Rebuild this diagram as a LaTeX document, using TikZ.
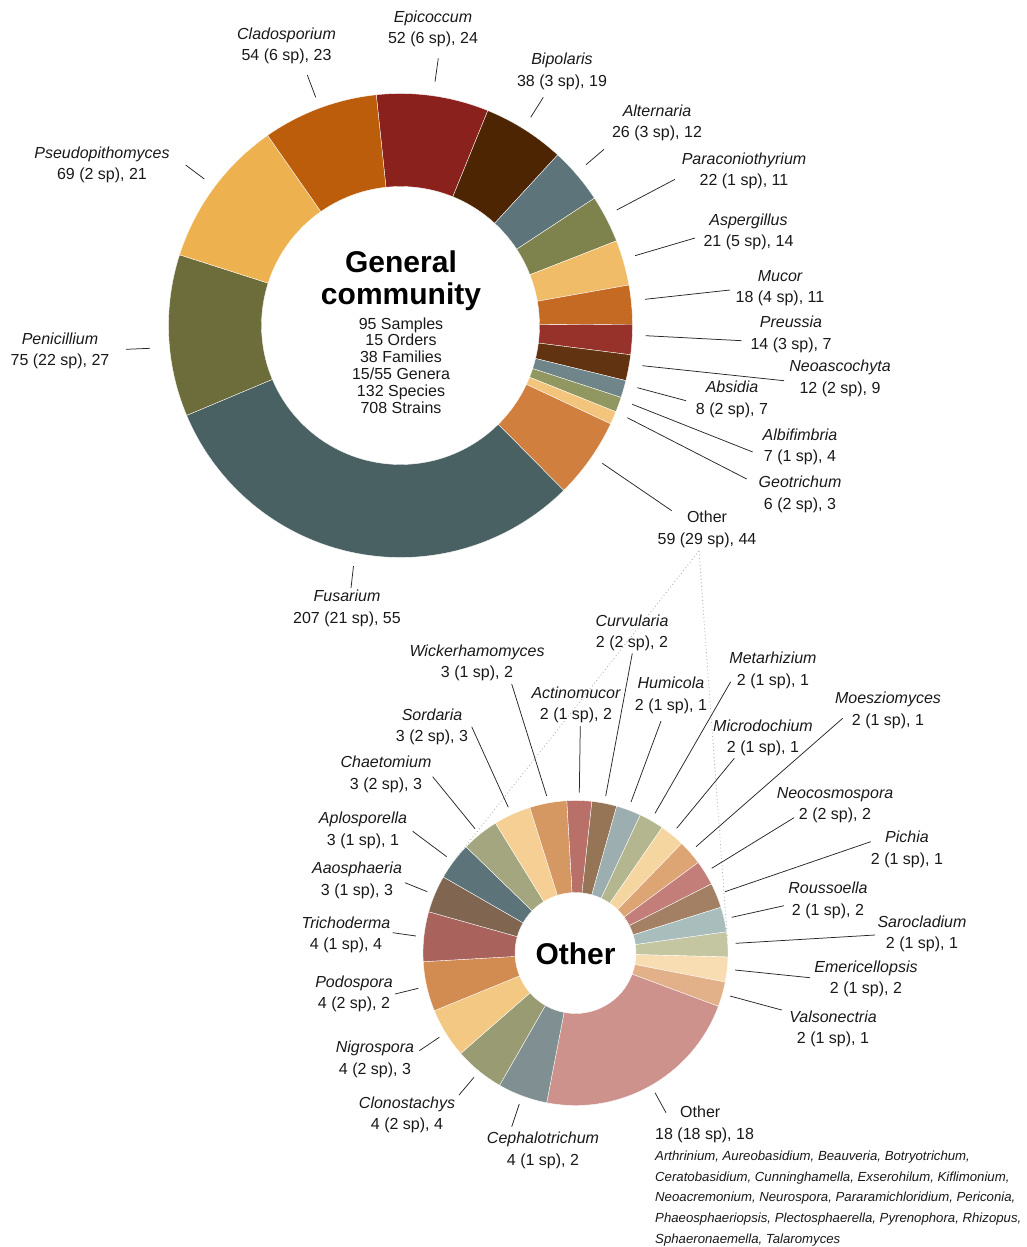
\documentclass[tikz,border=0pt]{standalone}
\usepackage{fontspec}
\setmainfont{Liberation Sans}
% top colours
\definecolor{tEpi}{HTML}{8A211C}
\definecolor{tBip}{HTML}{4E2503}
\definecolor{tAlt}{HTML}{5C747A}
\definecolor{tPar}{HTML}{7E824C}
\definecolor{tAsp}{HTML}{F1BC67}
\definecolor{tMuc}{HTML}{C46A22}
\definecolor{tPre}{HTML}{963229}
\definecolor{tNeo}{HTML}{623310}
\definecolor{tAbs}{HTML}{6F8589}
\definecolor{tAlb}{HTML}{909760}
\definecolor{tGeo}{HTML}{F3C57C}
\definecolor{tOth}{HTML}{D07F3E}
\definecolor{tFus}{HTML}{4A6163}
\definecolor{tPen}{HTML}{6C6D3B}
\definecolor{tPse}{HTML}{EEB150}
\definecolor{tCla}{HTML}{BB5D0A}
% bottom colours
\definecolor{bAct}{HTML}{B87068}
\definecolor{bCur}{HTML}{957556}
\definecolor{bHum}{HTML}{9DAEB1}
\definecolor{bMet}{HTML}{B3B68E}
\definecolor{bMic}{HTML}{F5D5A0}
\definecolor{bMoe}{HTML}{DDA474}
\definecolor{bNeo}{HTML}{C47E79}
\definecolor{bPic}{HTML}{A38064}
\definecolor{bRou}{HTML}{A9BDBD}
\definecolor{bSar}{HTML}{C3C6A0}
\definecolor{bEme}{HTML}{F7DDB1}
\definecolor{bVal}{HTML}{E2B18A}
\definecolor{bOth}{HTML}{CD928C}
\definecolor{bCep}{HTML}{7F8F92}
\definecolor{bClo}{HTML}{999B72}
\definecolor{bNig}{HTML}{F2C883}
\definecolor{bPod}{HTML}{D28B50}
\definecolor{bTri}{HTML}{A9625C}
\definecolor{bAao}{HTML}{806650}
\definecolor{bApl}{HTML}{5B7379}
\definecolor{bCha}{HTML}{A3A67F}
\definecolor{bSor}{HTML}{F5CF93}
\definecolor{bWic}{HTML}{D59862}
\tikzset{
  lab/.style={font=\fontsize{16}{19}\selectfont, inner sep=0pt, text=black!90},
  title/.style={font=\bfseries\fontsize{30}{33}\selectfont, inner sep=0pt},
  small/.style={font=\itshape\fontsize{13.2}{15}\selectfont, inner sep=0pt, anchor=base west, text=black!90},
  lead/.style={line width=0.75pt, black!85},
  zoomline/.style={line width=0.9pt, black!30, dash pattern=on 0.9pt off 2.6pt},
  slicefill/.style={draw=white, line width=0.35pt}
}
% id, x, y of number line centre, name, number, leader start, leader end
\newcommand\glabel[7]{%
  \node[lab, anchor=base] (#1) at (#2,{#3+5.7}) {#5};
  \node[lab, anchor=base] (#1n) at (#2,{#3+5.7-21.3}) {\itshape #4};
  \coordinate (#1s) at #6;
  \coordinate (#1e) at #7;
  \draw[lead] (#1s) -- (#1e);
}
\begin{document}
\begin{tikzpicture}[x=1pt, y=-1pt]
\useasboundingbox (0,0) rectangle (1027,1247);
% ---------- top donut ----------
\begin{scope}[shift={(400.5,325.5)}]
\foreach \a/\b/\col in {-6/22.11/tEpi, 22.11/42.65/tBip, 42.65/56.71/tAlt, 56.71/68.60/tPar,
  68.60/79.95/tAsp, 79.95/89.68/tMuc, 89.68/97.25/tPre, 97.25/103.74/tNeo, 103.74/108.06/tAbs,
  108.06/111.84/tAlb, 111.84/115.08/tGeo, 115.08/135.3/tOth, 135.3/247.2/tFus, 247.2/287.75/tPen,
  287.75/325.05/tPse, 325.05/354/tCla}{
  \fill[\col, slicefill] ({\a-90}:232) arc[start angle={\a-90}, end angle={\b-90}, radius=232]
    -- ({\b-90}:139) arc[start angle={\b-90}, end angle={\a-90}, radius=139] -- cycle;
}
\end{scope}
\node[title, anchor=base] (gen) at (401,272) {General};
\node[title, anchor=base] (com) at (401,304) {community};
\node[lab, anchor=base] (s1) at (401,329.0) {95 Samples};
\node[lab, anchor=base] (s2) at (401,345.8) {15 Orders};
\node[lab, anchor=base] (s3) at (401,362.6) {38 Families};
\node[lab, anchor=base] (s4) at (401,379.4) {15/55 Genera};
\node[lab, anchor=base] (s5) at (401,396.2) {132 Species};
\node[lab, anchor=base] (s6) at (401,413.0) {708 Strains};
% top labels
\glabel{cla}{286.5}{55}{Cladosporium}{54 (6 sp), 23}{(307.3,75)}{(315.7,97.3)}
\glabel{epi}{433}{37.7}{Epicoccum}{52 (6 sp), 24}{(438.3,58.3)}{(435,81.7)}
\glabel{bip}{562}{80.3}{Bipolaris}{38 (3 sp), 19}{(543.3,97.3)}{(530.7,117.3)}
\glabel{alt}{657}{132}{Alternaria}{26 (3 sp), 12}{(604,149.3)}{(586,164.7)}
\glabel{par}{744}{180}{Paraconiothyrium}{22 (1 sp), 11}{(675,179.3)}{(616.7,210)}
\glabel{asp}{748.5}{240.7}{Aspergillus}{21 (5 sp), 14}{(695,238)}{(635,255.7)}
\glabel{muc}{780}{296.7}{Mucor}{18 (4 sp), 11}{(730,290)}{(645,299.3)}
\glabel{pre}{791}{343.3}{Preussia}{14 (3 sp), 7}{(741.7,340.7)}{(645.7,335.7)}
\glabel{neo}{840}{387.3}{Neoascochyta}{12 (2 sp), 9}{(784,380.7)}{(642.3,365.7)}
\glabel{abs}{732}{408.3}{Absidia}{8 (2 sp), 7}{(686,400.7)}{(637.3,387.7)}
\glabel{alb}{800}{455.7}{Albifimbria}{7 (1 sp), 4}{(752.7,452)}{(632.3,404.3)}
\glabel{geo}{800}{503.3}{Geotrichum}{6 (2 sp), 3}{(746.7,479)}{(627.3,417.7)}
\glabel{oth}{707}{538.3}{\upshape Other}{59 (29 sp), 44}{(671.7,510.7)}{(602.3,463.3)}
\glabel{fus}{347}{617.3}{Fusarium}{207 (21 sp), 55}{(353.5,566)}{(351,588)}
\glabel{pen}{60}{360}{Penicillium}{75 (22 sp), 27}{(126,349.3)}{(150,348.3)}
\glabel{pse}{102}{174}{Pseudopithomyces}{69 (2 sp), 21}{(185.7,165)}{(204.3,179)}
% ---------- zoom lines ----------
\coordinate (zp) at (699,551);
\coordinate (zl) at (455.9,858.4);
\coordinate (zr) at (727.6,941.8);
\draw[zoomline] (zp) -- (zl);
\draw[zoomline] (zp) -- (zr);
% ---------- bottom donut ----------
\begin{scope}[shift={(575.5,953)}]
\foreach \a/\b/\col in {-3.3/6.18/bAct, 6.18/15.66/bCur, 15.66/25.14/bHum, 25.14/34.62/bMet,
  34.62/44.10/bMic, 44.10/53.58/bMoe, 53.58/63.06/bNeo, 63.06/72.54/bPic, 72.54/82.02/bRou,
  82.02/91.50/bSar, 91.50/100.98/bEme, 100.98/110.46/bVal, 110.46/190.9/bOth, 190.9/209.86/bCep,
  209.86/228.82/bClo, 228.82/247.78/bNig, 247.78/266.74/bPod, 266.74/285.70/bTri, 285.70/299.92/bAao,
  299.92/314.14/bApl, 314.14/328.36/bCha, 328.36/342.58/bSor, 342.58/356.7/bWic}{
  \fill[\col, slicefill] ({\a-90}:152.5) arc[start angle={\a-90}, end angle={\b-90}, radius=152.5]
    -- ({\b-90}:60.5) arc[start angle={\b-90}, end angle={\a-90}, radius=60.5] -- cycle;
}
\end{scope}
\node[title, anchor=base] (oth2) at (575.5,964) {Other};
% bottom labels
\glabel{cur}{632}{641.7}{Curvularia}{2 (2 sp), 2}{(632.3,653.3)}{(605.7,796)}
\glabel{wic}{477}{671.7}{Wickerhamomyces}{3 (1 sp), 2}{(511.7,684)}{(546.7,796)}
\glabel{act}{576}{714}{Actinomucor}{2 (1 sp), 2}{(580.3,726)}{(579.3,792.7)}
\glabel{hum}{671}{704.3}{Humicola}{2 (1 sp), 1}{(661,721)}{(631,802)}
\glabel{met}{773}{679.3}{Metarhizium}{2 (1 sp), 1}{(730.7,681.7)}{(655,813.3)}
\glabel{mic}{763}{746.7}{Microdochium}{2 (1 sp), 1}{(734.3,758.3)}{(676.7,828.3)}
\glabel{moe}{888}{719.3}{Moesziomyces}{2 (1 sp), 1}{(842.7,718.3)}{(696,846.7)}
\glabel{ncs}{835}{814}{Neocosmospora}{2 (2 sp), 2}{(794,817.7)}{(711.7,868.3)}
\glabel{pic}{907}{858.3}{Pichia}{2 (1 sp), 1}{(870.7,841.7)}{(725,891.7)}
\glabel{rou}{828}{909.3}{Roussoella}{2 (1 sp), 2}{(784,905.7)}{(731.7,917.3)}
\glabel{sar}{922}{942.7}{Sarocladium}{2 (1 sp), 1}{(875,935)}{(735.7,943.3)}
\glabel{eme}{866}{987.7}{Emericellopsis}{2 (1 sp), 2}{(810,977.7)}{(735,970)}
\glabel{val}{833}{1037.7}{Valsonectria}{2 (1 sp), 1}{(781.7,1010)}{(730,996)}
\glabel{cep}{543}{1159.3}{Cephalotrichum}{4 (1 sp), 2}{(511.7,1126.7)}{(519.3,1104)}
\glabel{clo}{407}{1124}{Clonostachys}{4 (2 sp), 4}{(459,1095)}{(474,1077.3)}
\glabel{nig}{375}{1068.3}{Nigrospora}{4 (2 sp), 3}{(419.3,1050.7)}{(439.3,1037.3)}
\glabel{pod}{354}{1002.7}{Podospora}{4 (2 sp), 2}{(395,994)}{(418.3,988.3)}
\glabel{tri}{346}{944}{Trichoderma}{4 (1 sp), 4}{(392.7,932.7)}{(416,936)}
\glabel{aao}{357}{889.3}{Aaosphaeria}{3 (1 sp), 3}{(405,882.7)}{(427.3,891.7)}
\glabel{apl}{363}{839.3}{Aplosporella}{3 (1 sp), 1}{(412.7,831.3)}{(446.7,856.7)}
\glabel{cha}{386}{783.3}{Chaetomium}{3 (2 sp), 3}{(432.7,776.7)}{(475,828.7)}
\glabel{sor}{432}{736}{Sordaria}{3 (2 sp), 3}{(471.7,726.7)}{(508.3,807.3)}
% bottom other
\node[lab, anchor=base west] (bo1) at (680,1117.4) {Other};
\node[lab, anchor=base west] (bo2) at (655,1139.5) {18 (18 sp), 18};
\coordinate (bos) at (655,1092.7);
\coordinate (boe) at (666,1112.7);
\draw[lead] (bos) -- (boe);
\node[small] (l1) at (655,1160.2) {Arthrinium, Aureobasidium, Beauveria, Botryotrichum,};
\node[small] (l2) at (655,1181.0) {Ceratobasidium, Cunninghamella, Exserohilum, Kiflimonium,};
\node[small] (l3) at (655,1201.8) {Neoacremonium, Neurospora, Pararamichloridium, Periconia,};
\node[small] (l4) at (655,1222.6) {Phaeosphaeriopsis, Plectosphaerella, Pyrenophora, Rhizopus,};
\node[small] (l5) at (655,1243.2) {Sphaeronaemella, Talaromyces};
\end{tikzpicture}
\end{document}
